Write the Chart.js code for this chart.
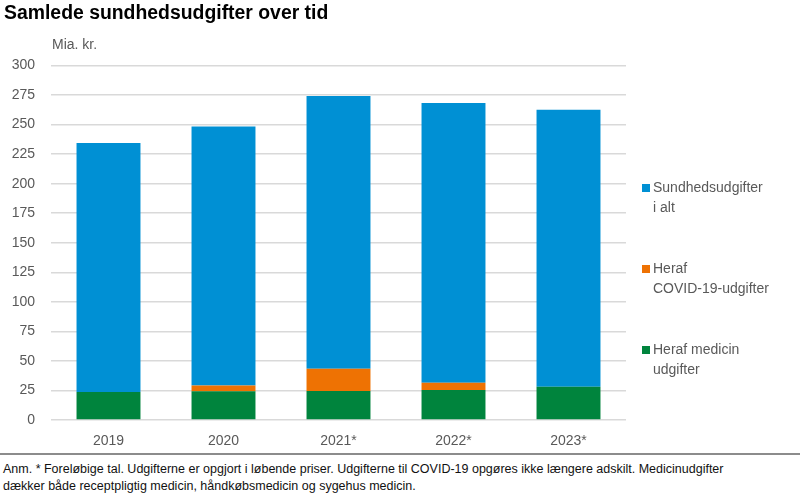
<!DOCTYPE html>
<html>
<head>
<meta charset="utf-8">
<script src="https://cdn.jsdelivr.net/npm/chart.js@4/dist/chart.umd.min.js"></script>
<style>
  body { margin: 0; background: #fff; font-family: "Liberation Sans", Arial, sans-serif; }
  #wrap { position: relative; width: 800px; height: 494px; overflow: hidden; }
  #title { position: absolute; left: 4px; top: 1px; font-size: 19.4px; font-weight: bold; color: #000; }
  #unit { position: absolute; left: 52px; top: 36px; font-size: 14px; color: #595959; }
  #box { position: absolute; left: 0; top: 0; width: 800px; height: 450px; }
  #rule { position: absolute; left: 0; top: 453px; width: 800px; height: 2px; background: #8c8c8c; }
  #note { position: absolute; left: 3px; top: 461px; font-size: 12.5px; line-height: 17px; color: #111; }
</style>
</head>
<body>
<div id="wrap">
  <div id="box"><canvas id="myChart"></canvas></div>
  <div id="title">Samlede sundhedsudgifter over tid</div>
  <div id="unit">Mia. kr.</div>
  <div id="rule"></div>
  <div id="note">Anm. * Foreløbige tal. Udgifterne er opgjort i løbende priser. Udgifterne til COVID-19 opgøres ikke længere adskilt. Medicinudgifter<br>dækker både receptpligtig medicin, håndkøbsmedicin og sygehus medicin.</div>
</div>
<script>
const years = ['2019', '2020', '2021*', '2022*', '2023*']
// Mia. kr.
const medicin = [23.6, 24.3, 24.5, 25.4, 28.2]
const covid = [0, 4.9, 18.8, 6.2, 0]
const resten = [210.8, 219.1, 230.8, 236.6, 234.3]   // top part of the bar, total minus the two below
const yTicks = [0, 25, 50, 75, 100, 125, 150, 175, 200, 225, 250, 275, 300]

const legendLines = [
    { color: '#0090d4', lines: ['Sundhedsudgifter', 'i alt'], y: 188 },
    { color: '#ee7203', lines: ['Heraf', 'COVID-19-udgifter'], y: 269 },
    { color: '#00843d', lines: ['Heraf medicin', 'udgifter'], y: 350 }
]

// legend drawn on the canvas, labels split over two lines like the original
const sideLegend = {
    id: 'sideLegend',
    afterDraw(chart){
        const c = chart.ctx
        c.save()
        c.font = '14px "Liberation Sans", Arial, sans-serif'
        c.textBaseline = 'middle'
        legendLines.forEach(item => {
            c.fillStyle = item.color
            c.fillRect(642, item.y - 4, 8, 8)
            c.fillStyle = '#595959'
            item.lines.forEach((t, i) => {
                c.fillText(t, 653, item.y + i * 20)
            })
        })
        c.restore()
    }
}

const ctx = document.getElementById('myChart').getContext('2d')
Chart.defaults.font.family = '"Liberation Sans", Arial, sans-serif'
Chart.defaults.font.size = 14
Chart.defaults.color = '#595959'

const myChart = new Chart(ctx, {
    type: 'bar',
    data: {
        labels: years,
        datasets: [
            { label: 'Heraf medicin udgifter', data: medicin, backgroundColor: '#00843d' },
            { label: 'Heraf COVID-19-udgifter', data: covid, backgroundColor: '#ee7203' },
            { label: 'Sundhedsudgifter i alt', data: resten, backgroundColor: '#0090d4' }
        ]
    },
    options: {
        responsive: true,
        maintainAspectRatio: false,
        animation: false,
        layout: { padding: { top: 65.5, right: 174, left: 0, bottom: 0 } },
        datasets: { bar: { categoryPercentage: 0.556, barPercentage: 1, borderWidth: 0 } },
        plugins: {
            legend: { display: false },
            tooltip: { enabled: false }
        },
        scales: {
            x: {
                stacked: true,
                grid: { display: false, drawTicks: false },
                border: { display: false },
                ticks: { padding: 13, color: '#595959' },
                afterFit(scale){ scale.height = 30 }
            },
            y: {
                stacked: true,
                min: 0,
                max: 300,
                afterBuildTicks(scale){ scale.ticks = yTicks.map(v => ({ value: v })) },
                grid: { color: '#d9d9d9', lineWidth: 1.5, drawTicks: false },
                border: { display: false },
                ticks: { padding: 16, color: '#595959' },
                afterFit(scale){ scale.width = 51 }
            }
        }
    },
    plugins: [sideLegend]
})
</script>
</body>
</html>
